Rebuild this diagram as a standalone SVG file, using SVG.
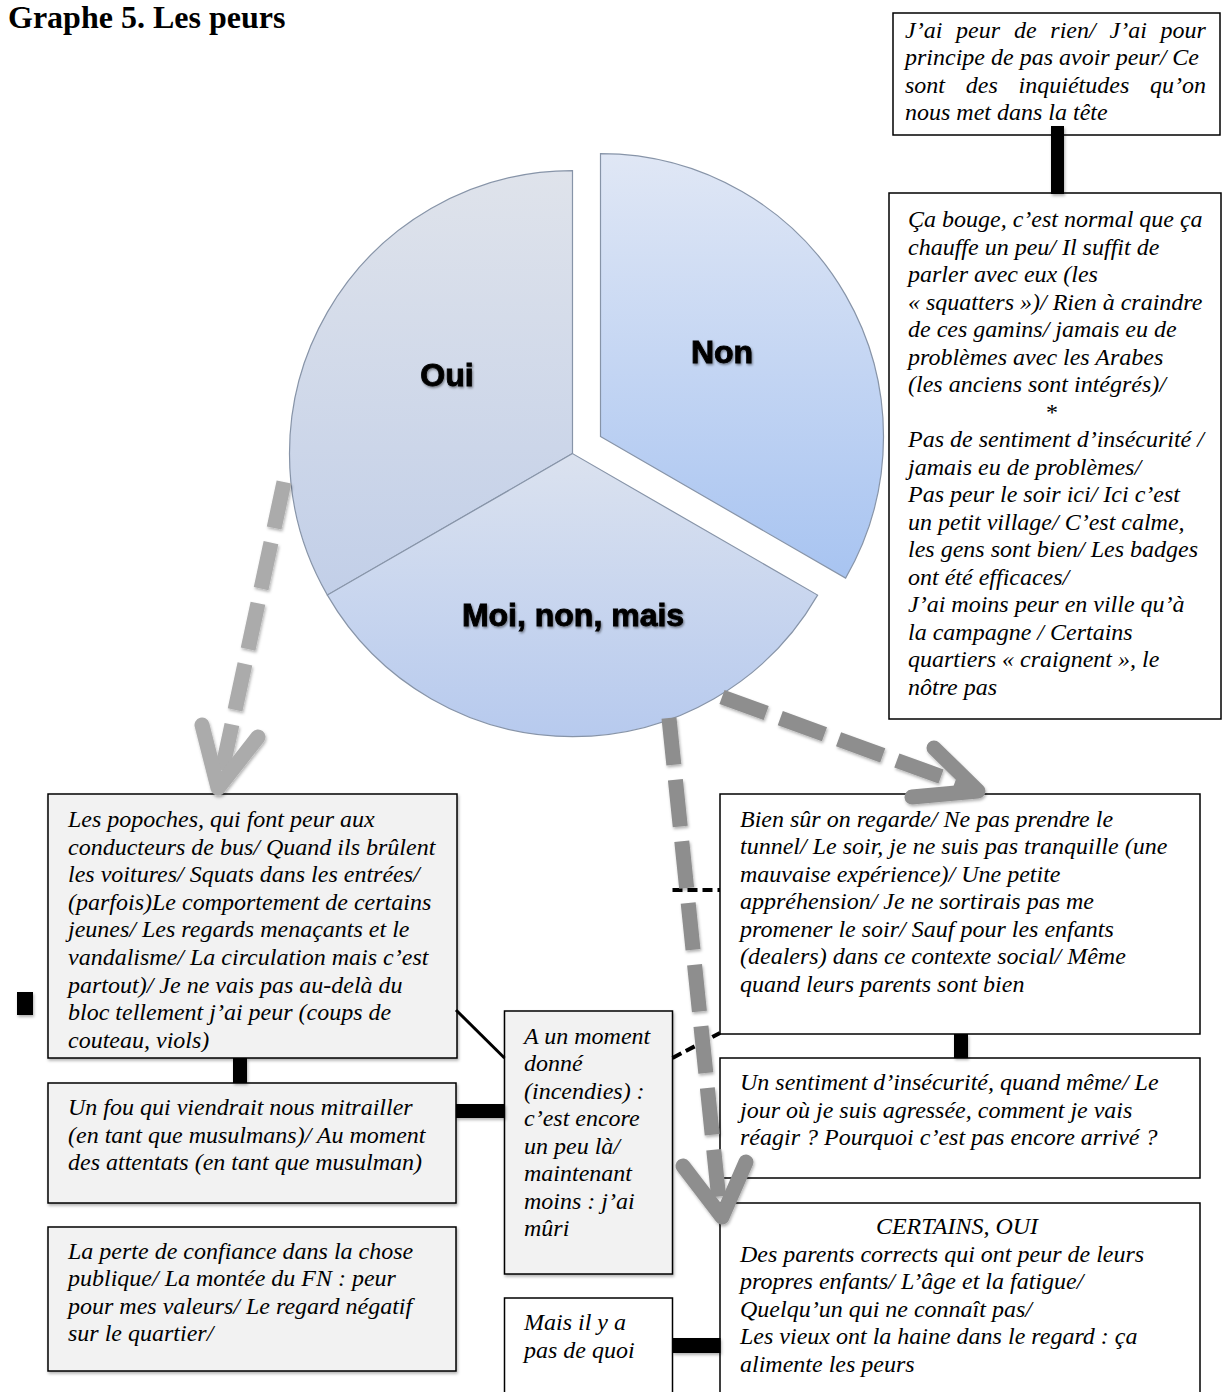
<svg xmlns="http://www.w3.org/2000/svg" width="1223" height="1392" viewBox="0 0 1223 1392">
<defs>
<linearGradient id="gOui" x1="0" y1="0" x2="0" y2="1"><stop offset="0" stop-color="#dfe3eb"/><stop offset="1" stop-color="#c2cfe8"/></linearGradient>
<linearGradient id="gMoi" x1="0" y1="0" x2="0" y2="1"><stop offset="0" stop-color="#dbe2ef"/><stop offset="1" stop-color="#b7caee"/></linearGradient>
<linearGradient id="gNon" x1="0" y1="0" x2="0" y2="1"><stop offset="0" stop-color="#e0e7f5"/><stop offset="1" stop-color="#a8c4f1"/></linearGradient>
<filter id="sh" x="-20%" y="-20%" width="140%" height="140%"><feDropShadow dx="1" dy="2" stdDeviation="1.5" flood-color="#000" flood-opacity="0.3"/></filter>
<filter id="tsh" x="-20%" y="-20%" width="140%" height="160%"><feDropShadow dx="1" dy="1.5" stdDeviation="1" flood-color="#000" flood-opacity="0.45"/></filter>
<clipPath id="clipC"><rect x="48" y="794" width="409" height="258"/></clipPath>
</defs>
<style>
.t{font-family:"Liberation Serif","Times New Roman",serif;font-style:italic;font-size:24px;fill:#000}
.box{stroke:#000;stroke-width:1.5}
.wb{fill:#fff}
.gb{fill:#f2f2f2}
.sec{stroke:#8794a8;stroke-width:1.2}
.lab{font-family:"Liberation Sans",Arial,sans-serif;font-weight:bold;font-size:32px;fill:#000;stroke:#000;stroke-width:0.9}
.bar{fill:#000}
.arr{fill:none;stroke-width:15;stroke-dasharray:47 15}
.head{fill:none;stroke-width:15;stroke-linecap:round;stroke-linejoin:round}
</style>
<rect width="1223" height="1392" fill="#fff"/>
<text x="8" y="28" font-family="Liberation Serif,'Times New Roman',serif" font-weight="bold" font-size="32">Graphe 5. Les peurs</text>

<g id="pie">
<path class="sec" fill="url(#gOui)" d="M572.5,453.6 L572.5,170.6 A283,283 0 0 0 327.4,595.1 Z"/>
<path class="sec" fill="url(#gMoi)" d="M572.5,453.6 L327.4,595.1 A283,283 0 0 0 817.6,595.1 Z"/>
<path class="sec" fill="url(#gNon)" d="M600.5,436.6 L845.6,578.1 A283,283 0 0 0 600.5,153.6 Z"/>
<g filter="url(#tsh)">
<text class="lab" x="447" y="386" text-anchor="middle">Oui</text>
<text class="lab" x="722" y="363" text-anchor="middle">Non</text>
<text class="lab" x="573" y="626" text-anchor="middle">Moi, non, mais</text>
</g>
</g>

<g id="boxA">
<rect class="box wb" x="893" y="13" width="327" height="122"/>
<text class="t"><tspan x="905" y="37.5" word-spacing="7.8">J’ai peur de rien/ J’ai pour</tspan><tspan x="905" y="65">principe de pas avoir peur/ Ce</tspan><tspan x="905" y="92.5" word-spacing="14.8">sont des inquiétudes qu’on</tspan><tspan x="905" y="120">nous met dans la tête</tspan></text>
</g>

<g id="boxB">
<rect class="box wb" x="889" y="193" width="332" height="526"/>
<text class="t">
<tspan x="908" y="227">Ça bouge, c’est normal que ça</tspan>
<tspan x="908" y="254.5">chauffe un peu/ Il suffit de</tspan>
<tspan x="908" y="282">parler avec eux (les</tspan>
<tspan x="908" y="309.5">« squatters »)/ Rien à craindre</tspan>
<tspan x="908" y="337">de ces gamins/ jamais eu de</tspan>
<tspan x="908" y="364.5">problèmes avec les Arabes</tspan>
<tspan x="908" y="392">(les anciens sont intégrés)/</tspan>
<tspan x="1055" y="419.5" text-anchor="middle" font-style="normal">*</tspan>
<tspan x="908" y="447">Pas de sentiment d’insécurité /</tspan>
<tspan x="908" y="474.5">jamais eu de problèmes/</tspan>
<tspan x="908" y="502">Pas peur le soir ici/ Ici c’est</tspan>
<tspan x="908" y="529.5">un petit village/ C’est calme,</tspan>
<tspan x="908" y="557">les gens sont bien/ Les badges</tspan>
<tspan x="908" y="584.5">ont été efficaces/</tspan>
<tspan x="908" y="612">J’ai moins peur en ville qu’à</tspan>
<tspan x="908" y="639.5">la campagne / Certains</tspan>
<tspan x="908" y="667">quartiers « craignent », le</tspan>
<tspan x="908" y="694.5">nôtre pas</tspan>
</text>
</g>

<g id="boxC">
<rect class="box gb" x="48" y="794" width="409" height="264" filter="url(#sh)"/>
<text class="t" clip-path="url(#clipC)">
<tspan x="68" y="827">Les popoches, qui font peur aux</tspan>
<tspan x="68" y="854.6">conducteurs de bus/ Quand ils brûlent</tspan>
<tspan x="68" y="882.2">les voitures/ Squats dans les entrées/</tspan>
<tspan x="68" y="909.8">(parfois)Le comportement de certains</tspan>
<tspan x="68" y="937.4">jeunes/ Les regards menaçants et le</tspan>
<tspan x="68" y="965">vandalisme/ La circulation mais c’est</tspan>
<tspan x="68" y="992.6">partout)/ Je ne vais pas au-delà du</tspan>
<tspan x="68" y="1020.2">bloc tellement j’ai peur (coups de</tspan>
<tspan x="68" y="1047.8">couteau, viols)</tspan>
</text>
</g>

<g id="boxD">
<rect class="box gb" x="48" y="1083" width="408" height="120" filter="url(#sh)"/>
<text class="t">
<tspan x="68" y="1115">Un fou qui viendrait nous mitrailler</tspan>
<tspan x="68" y="1142.6">(en tant que musulmans)/ Au moment</tspan>
<tspan x="68" y="1170.2">des attentats (en tant que musulman)</tspan>
</text>
</g>

<g id="boxF">
<rect class="box gb" x="48" y="1227" width="408" height="144" filter="url(#sh)"/>
<text class="t">
<tspan x="68" y="1258.5">La perte de confiance dans la chose</tspan>
<tspan x="68" y="1286">publique/ La montée du FN : peur</tspan>
<tspan x="68" y="1313.5">pour mes valeurs/ Le regard négatif</tspan>
<tspan x="68" y="1341">sur le quartier/</tspan>
</text>
</g>

<g id="boxE">
<rect class="box gb" x="504.5" y="1011" width="168" height="263" filter="url(#sh)"/>
<text class="t">
<tspan x="524" y="1043.5">A un moment</tspan>
<tspan x="524" y="1071">donné</tspan>
<tspan x="524" y="1098.5">(incendies) :</tspan>
<tspan x="524" y="1126">c’est encore</tspan>
<tspan x="524" y="1153.5">un peu là/</tspan>
<tspan x="524" y="1181">maintenant</tspan>
<tspan x="524" y="1208.5">moins : j’ai</tspan>
<tspan x="524" y="1236">mûri</tspan>
</text>
</g>

<g id="boxG">
<rect class="box wb" x="504.5" y="1298" width="168" height="110"/>
<text class="t">
<tspan x="524" y="1330">Mais il y a</tspan>
<tspan x="524" y="1357.5">pas de quoi</tspan>
</text>
</g>

<g id="boxH">
<rect class="box wb" x="720" y="794" width="480" height="240"/>
<text class="t">
<tspan x="740" y="826.5">Bien sûr on regarde/ Ne pas prendre le</tspan>
<tspan x="740" y="854">tunnel/ Le soir, je ne suis pas tranquille (une</tspan>
<tspan x="740" y="881.5">mauvaise expérience)/ Une petite</tspan>
<tspan x="740" y="909">appréhension/ Je ne sortirais pas me</tspan>
<tspan x="740" y="936.5">promener le soir/ Sauf pour les enfants</tspan>
<tspan x="740" y="964">(dealers) dans ce contexte social/ Même</tspan>
<tspan x="740" y="991.5">quand leurs parents sont bien</tspan>
</text>
</g>

<g id="boxI">
<rect class="box wb" x="720" y="1058" width="480" height="120"/>
<text class="t">
<tspan x="740" y="1090">Un sentiment d’insécurité, quand même/ Le</tspan>
<tspan x="740" y="1117.5">jour où je suis agressée, comment je vais</tspan>
<tspan x="740" y="1145">réagir ? Pourquoi c’est pas encore arrivé ?</tspan>
</text>
</g>

<g id="boxJ">
<rect class="box wb" x="720" y="1203" width="480" height="205"/>
<text class="t">
<tspan x="960" y="1234" text-anchor="middle">CERTAINS, OUI</tspan>
<tspan x="740" y="1261.5">Des parents corrects qui ont peur de leurs</tspan>
<tspan x="740" y="1289">propres enfants/ L’âge et la fatigue/</tspan>
<tspan x="740" y="1316.5">Quelqu’un qui ne connaît pas/</tspan>
<tspan x="740" y="1344">Les vieux ont la haine dans le regard : ça</tspan>
<tspan x="740" y="1371.5">alimente les peurs</tspan>
</text>
</g>

<g id="connectors">
<g filter="url(#sh)">
<rect class="bar" x="1051" y="126" width="13" height="68"/>
<rect class="bar" x="17" y="992" width="16" height="23"/>
<rect class="bar" x="233" y="1058" width="14" height="25"/>
<rect class="bar" x="456" y="1104" width="49" height="14"/>
<rect class="bar" x="954" y="1034" width="14" height="24"/>
<rect class="bar" x="672.5" y="1338" width="48" height="15"/>
</g>
<line x1="456" y1="1010" x2="504.5" y2="1058" stroke="#000" stroke-width="3"/>
<line x1="672.5" y1="1058" x2="720" y2="1033" stroke="#000" stroke-width="4" stroke-dasharray="10 5"/>
<line x1="672.5" y1="890" x2="720" y2="890" stroke="#000" stroke-width="4" stroke-dasharray="10 5"/>
<g filter="url(#sh)">
<line class="arr" stroke="#ababab" x1="284" y1="482" x2="220" y2="780"/>
<polyline class="head" stroke="#ababab" points="202,725 218,788 258,737"/>
<line class="arr" stroke="#8e8e8e" x1="722" y1="697" x2="970" y2="787"/>
<polyline class="head" stroke="#8e8e8e" points="934,748 978,791 912,797"/>
<line class="arr" stroke="#8e8e8e" x1="669" y1="718" x2="720" y2="1210"/>
<polyline class="head" stroke="#8e8e8e" points="683,1166 722,1217 746,1162"/>
</g>
</g>
</svg>
